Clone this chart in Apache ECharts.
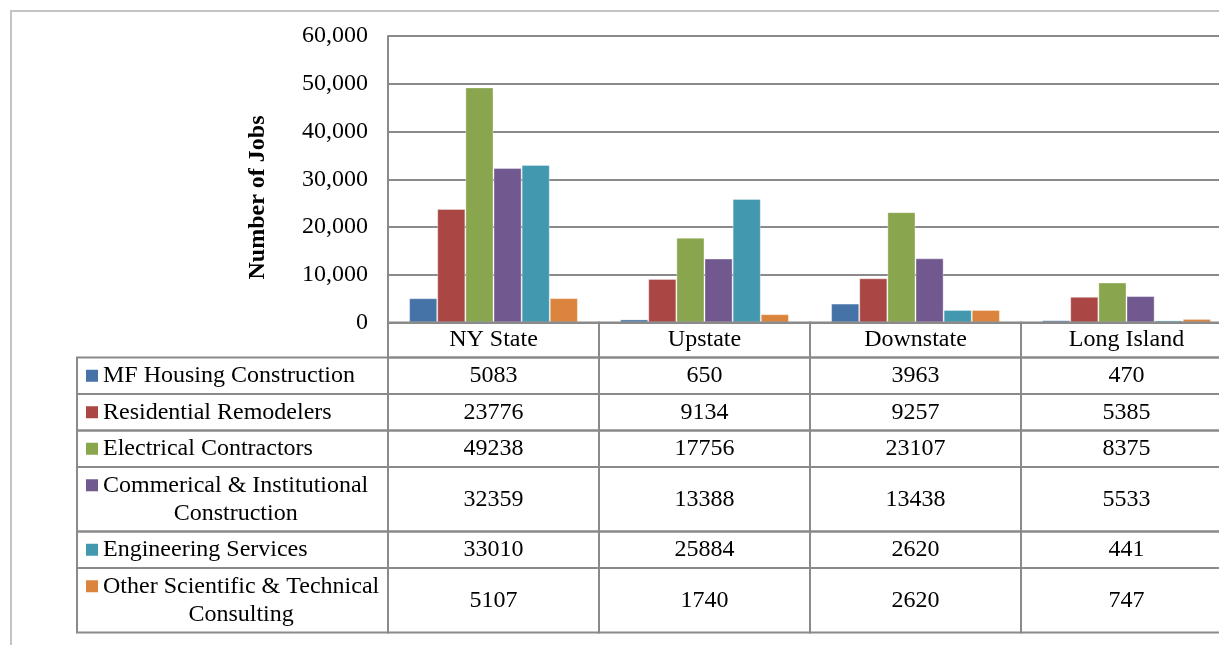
<!DOCTYPE html>
<html>
<head>
<meta charset="utf-8">
<script src="https://cdn.jsdelivr.net/npm/echarts@6/dist/echarts.min.js"></script>
<style>
html,body{margin:0;padding:0;background:#ffffff;}
#chart{width:1219px;height:645px;}
</style>
</head>
<body>
<div id="chart"></div>
<script>
// ---------------- data ----------------
const categories = ['NY State', 'Upstate', 'Downstate', 'Long Island'];
const seriesNames = [
  'MF Housing Construction',
  'Residential Remodelers',
  'Electrical Contractors',
  'Commerical & Institutional\nConstruction',
  'Engineering Services',
  'Other Scientific & Technical\nConsulting'
];
const mfHousing   = [5083, 650, 3963, 470];
const residential = [23776, 9134, 9257, 5385];
const electrical  = [49238, 17756, 23107, 8375];
const commercial  = [32359, 13388, 13438, 5533];
const engineering = [33010, 25884, 2620, 441];
const otherSci    = [5107, 1740, 2620, 747];
const yTickLabels = ['0', '10,000', '20,000', '30,000', '40,000', '50,000', '60,000'];
const yAxisTitle = 'Number of Jobs';

// ---------------- style / layout ----------------
const seriesValues = [mfHousing, residential, electrical, commercial, engineering, otherSci];
const colors = ['#4572A7', '#AA4643', '#89A54E', '#71588F', '#4198AF', '#DB843D'];
const FONT_FAMILY = '"Liberation Serif", "Times New Roman", serif';
const FONT_SIZE = 24;
const LINE_COLOR = '#8a8a8a';
const TABLE_LEFT = 77, KEY_X = 86, KEY_SIZE = 12, TEXT_X = 103;
const HEADER_H = 35, ROW_PAD = 8.5, LINE_H = 28;

const rowLines = seriesNames.map(n => n.split('\n').length);
const rowH = rowLines.map(l => ROW_PAD + LINE_H * l);
const rowTop = [];
(function(){ let acc = 0; rowH.forEach(h => { rowTop.push(acc); acc += h; }); })();

const measureCtx = document.createElement('canvas').getContext('2d');
measureCtx.font = FONT_SIZE + 'px ' + FONT_FAMILY;
function blockWidth(text) {
  return Math.max.apply(null, text.split('\n').map(t => measureCtx.measureText(t).width));
}

// data for table (header, cells, row heads)
const headerData = categories.map((c, i) => [i, 0, -1, 0]);
const cellData = [];
seriesValues.forEach((arr, r) => arr.forEach((v, c) => cellData.push([c, 0, r, v])));
const rowHeadData = seriesNames.map((n, r) => [0, 0, r, 0]);

function cellRender(params, api) {
  const c = api.value(0), r = api.value(2);
  const p = api.coord([c, 0]);
  const w = api.size([1, 0])[0];
  const x0 = p[0] - w / 2;
  let y, h, txt;
  if (r < 0) { y = p[1]; h = HEADER_H; txt = categories[c]; }
  else { y = p[1] + HEADER_H + rowTop[r]; h = rowH[r]; txt = String(api.value(3)); }
  return {
    type: 'group',
    children: [
      { type: 'rect', shape: { x: x0, y: y, width: w, height: h },
        style: { fill: 'none', stroke: LINE_COLOR, lineWidth: 2 } },
      { type: 'text', x: p[0], y: y + h / 2,
        style: { text: txt, fontSize: FONT_SIZE, fontFamily: FONT_FAMILY, fill: '#000',
                 align: 'center', verticalAlign: 'middle' } }
    ]
  };
}

function rowHeadRender(params, api) {
  const r = api.value(2);
  const p = api.coord([0, 0]);
  const w = api.size([1, 0])[0];
  const x1 = p[0] - w / 2;
  const y = p[1] + HEADER_H + rowTop[r];
  const h = rowH[r];
  const name = seriesNames[r];
  const bw = blockWidth(name);
  const firstCenter = y + h / 2 - (rowLines[r] - 1) * LINE_H / 2;
  return {
    type: 'group',
    children: [
      { type: 'rect', shape: { x: TABLE_LEFT, y: y, width: x1 - TABLE_LEFT, height: h },
        style: { fill: 'none', stroke: LINE_COLOR, lineWidth: 2 } },
      { type: 'rect', shape: { x: KEY_X, y: firstCenter - KEY_SIZE / 2, width: KEY_SIZE, height: KEY_SIZE },
        style: { fill: colors[r] } },
      { type: 'text', x: TEXT_X + bw / 2, y: y + h / 2,
        style: { text: name, fontSize: FONT_SIZE, fontFamily: FONT_FAMILY, fill: '#000',
                 align: 'center', verticalAlign: 'middle', lineHeight: LINE_H } }
    ]
  };
}

const barSeries = seriesNames.map((n, i) => ({
  name: n.replace('\n', ' '),
  type: 'bar',
  data: seriesValues[i],
  barGap: '0%',
  barCategoryGap: '20%',
  itemStyle: { color: colors[i], borderColor: 'rgba(255,255,255,0.35)', borderWidth: 1 },
  z: 3
}));

const chart = echarts.init(document.getElementById('chart'), null, { renderer: 'canvas' });
chart.setOption({
  animation: false,
  backgroundColor: '#ffffff',
  grid: { left: 388, top: 36, width: 844, height: 286.5, outerBoundsMode: 'none', containLabel: false },
  xAxis: {
    type: 'category',
    data: categories,
    axisLine: { show: true, lineStyle: { color: LINE_COLOR, width: 2 } },
    axisTick: { show: false },
    axisLabel: { show: false },
    splitLine: { show: false }
  },
  yAxis: {
    type: 'value',
    min: 0, max: 60000, interval: 10000,
    axisLine: { show: true, lineStyle: { color: LINE_COLOR, width: 2 } },
    axisTick: { show: false },
    splitLine: { show: true, lineStyle: { color: LINE_COLOR, width: 2 } },
    axisLabel: {
      margin: 20,
      fontSize: FONT_SIZE, fontFamily: FONT_FAMILY, color: '#000',
      formatter: (v, i) => yTickLabels[i]
    }
  },
  graphic: [
    { type: 'rect', shape: { x: 11, y: 11, width: 1400, height: 800 },
      style: { fill: 'none', stroke: '#c4c4c4', lineWidth: 2 }, silent: true },
    { type: 'text', x: 258, y: 197.5, rotation: Math.PI / 2,
      style: { text: yAxisTitle, fontSize: FONT_SIZE, fontWeight: 'bold', fontFamily: FONT_FAMILY,
               fill: '#000', align: 'center', verticalAlign: 'middle' } }
  ],
  series: barSeries.concat([
    { type: 'custom', name: 'header', data: headerData, renderItem: cellRender, clip: false,
      dimensions: ['col', 'zero', 'row', 'val'], encode: { x: 0, y: 1 }, silent: true, z: 5 },
    { type: 'custom', name: 'cells', data: cellData, renderItem: cellRender, clip: false,
      dimensions: ['col', 'zero', 'row', 'val'], encode: { x: 0, y: 1 }, silent: true, z: 5 },
    { type: 'custom', name: 'rowheads', data: rowHeadData, renderItem: rowHeadRender, clip: false,
      dimensions: ['col', 'zero', 'row', 'val'], encode: { x: 0, y: 1 }, silent: true, z: 5 }
  ])
});
</script>
</body>
</html>
